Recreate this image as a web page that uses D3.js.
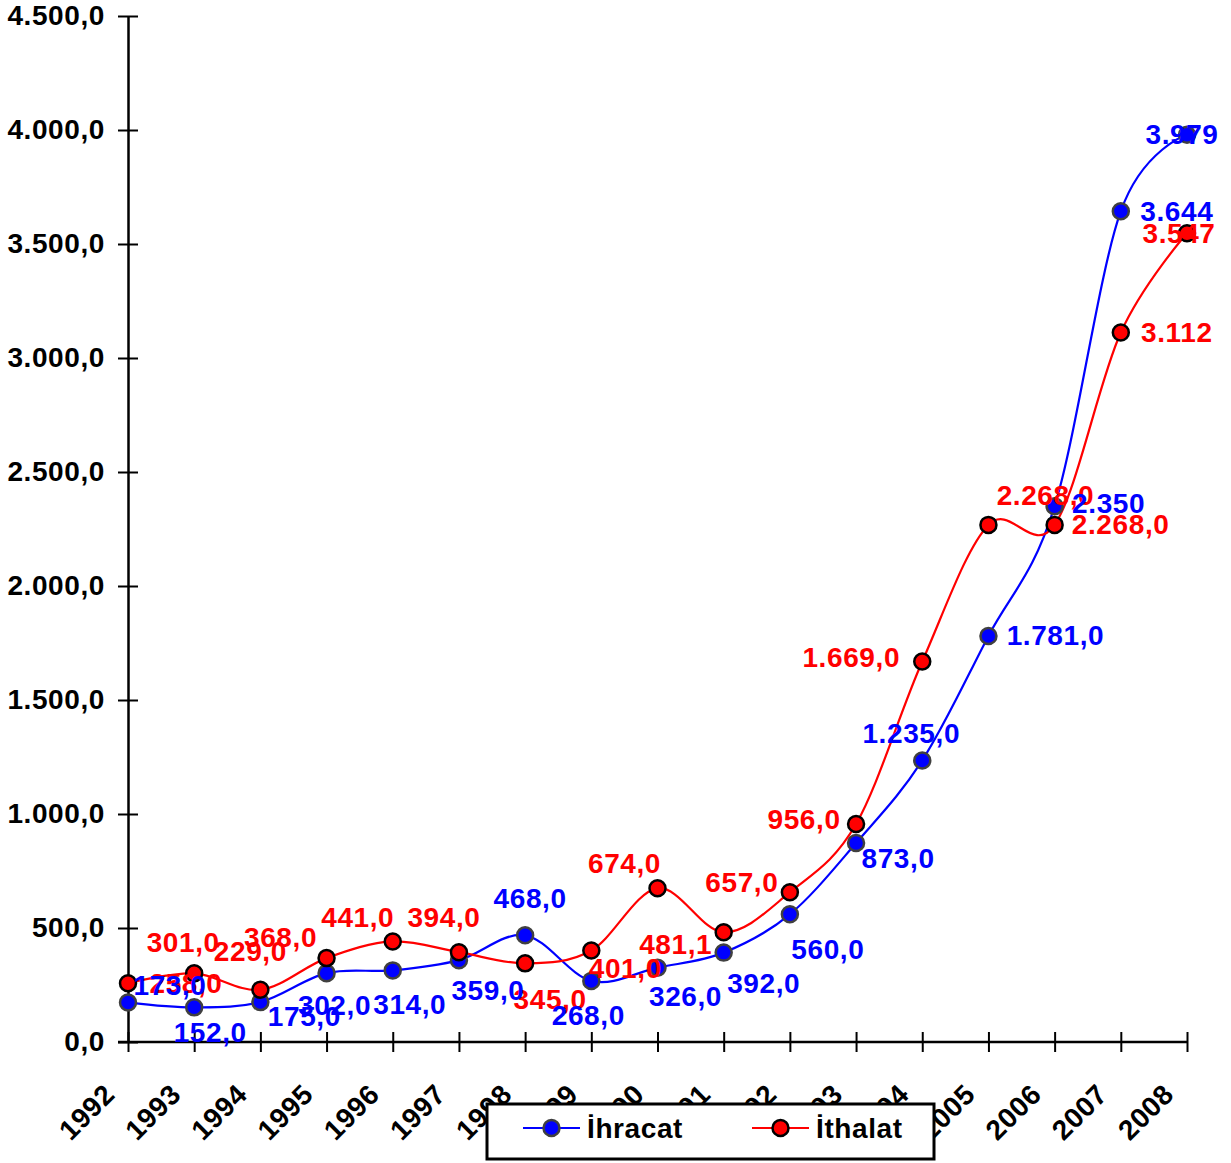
<!DOCTYPE html>
<html>
<head>
<meta charset="utf-8">
<script src="https://cdn.jsdelivr.net/npm/d3@7"></script>
<style>
    body { margin: 0; background: #fff; }
    text { font-family: "Liberation Sans", Arial, sans-serif; font-weight: bold; letter-spacing: 0.6px; }
</style>
</head>
<body>
<svg id="chart" width="1231" height="1163"></svg>
<script>
var years = ['1992', '1993', '1994', '1995', '1996', '1997', '1998', '1999', '2000',
    '2001', '2002', '2003', '2004', '2005', '2006', '2007', '2008'];

// İhracat (exports)
var ihracat = [173, 152, 175, 302, 314, 359, 468, 268, 326, 392, 560, 873, 1235,
    1781, 2350, 3644, 3979];
var ihracatLabels = ['173,0', '152,0', '175,0', '302,0', '314,0', '359,0', '468,0',
    '268,0', '326,0', '392,0', '560,0', '873,0', '1.235,0', '1.781,0', '2.350',
    '3.644', '3.979'];

// İthalat (imports)
var ithalat = [258, 301, 229, 368, 441, 394, 345, 401, 674, 481.1, 657, 956, 1669,
    2268, 2268, 3112, 3547];
var ithalatLabels = ['258,0', '301,0', '229,0', '368,0', '441,0', '394,0', '345,0',
    '401,0', '674,0', '481,1', '657,0', '956,0', '1.669,0', '2.268,0', '2.268,0',
    '3.112', '3.547'];

var yTicks = [0, 500, 1000, 1500, 2000, 2500, 3000, 3500, 4000, 4500];

// where each data label sits relative to its point (the original chart had them hand placed)
var ihracatNudge = [[42, -17], [16, 25], [44, 14], [8, 32], [17, 34], [29, 30], [5, -37],
    [-3, 35], [28, 29], [40, 31], [38, 35], [42, 16], [-11, -27], [67, 0], [54, -3],
    [56, 0], [-5, 0]];
var ithalatNudge = [[58, 0], [-11, -31], [-10, -38], [-46, -21], [-35, -24], [-15, -35],
    [25, 36], [34, 18], [-33, -25], [-48, 12], [-48, -10], [-52, -5], [-71, -4],
    [57, -29], [66, 0], [56, 0], [-8, 0]];

var svg = d3.select('#chart');
var fontSize = 28;

var x = d3.scalePoint()
    .domain(years)
    .range([128, 1187]);

var y = d3.scaleLinear()
    .domain([0, 4500])
    .range([1042, 16]);

var trFormat = d3.formatLocale({
    decimal: ',',
    thousands: '.',
    grouping: [3],
    currency: ['', '']
}).format(',.1f');

// y axis
var yAxis = d3.axisLeft(y)
    .tickValues(yTicks)
    .tickFormat(trFormat)
    .tickSizeInner(10)
    .tickSizeOuter(0)
    .tickPadding(13);

var gy = svg.append('g')
    .attr('transform', 'translate(' + x.range()[0] + ',0)')
    .call(yAxis);
gy.select('.domain').attr('stroke', '#000').attr('stroke-width', 2.5);
gy.selectAll('.tick line')
    .attr('x1', -10)
    .attr('x2', 10)
    .attr('stroke', '#000')
    .attr('stroke-width', 2);
gy.selectAll('.tick text')
    .attr('fill', '#000')
    .style('font-size', fontSize + 'px');

// x axis
var xAxis = d3.axisBottom(x)
    .tickSizeInner(10)
    .tickSizeOuter(0);

var gx = svg.append('g')
    .attr('transform', 'translate(0,' + y(0) + ')')
    .call(xAxis);
gx.select('.domain')
    .attr('d', 'M118,0H' + x.range()[1])
    .attr('stroke', '#000')
    .attr('stroke-width', 2.5);
gx.selectAll('.tick line')
    .attr('y1', -10)
    .attr('y2', 10)
    .attr('stroke', '#000')
    .attr('stroke-width', 2);
gx.selectAll('.tick text')
    .attr('fill', '#000')
    .style('font-size', fontSize + 'px')
    .attr('text-anchor', 'end')
    .attr('y', 0)
    .attr('dy', 0)
    .attr('transform', 'translate(-12,54) rotate(-45)');

// series
var series = [
    {name: 'İhracat', values: ihracat, labels: ihracatLabels, nudge: ihracatNudge,
        color: '#0000ff', ring: '#404040'},
    {name: 'İthalat', values: ithalat, labels: ithalatLabels, nudge: ithalatNudge,
        color: '#ff0000', ring: '#000000'}
];

var line = d3.line()
    .x(function(d, i) { return x(years[i]); })
    .y(function(d) { return y(d); })
    .curve(d3.curveCardinal.tension(0));

series.forEach(function(s) {
    svg.append('path')
        .attr('d', line(s.values))
        .attr('fill', 'none')
        .attr('stroke', s.color)
        .attr('stroke-width', 2.2);
});

series.forEach(function(s) {
    svg.append('g').selectAll('circle')
        .data(s.values)
        .enter()
        .append('circle')
        .attr('cx', function(d, i) { return x(years[i]); })
        .attr('cy', function(d) { return y(d); })
        .attr('r', 8)
        .attr('fill', s.color)
        .attr('stroke', s.ring)
        .attr('stroke-width', 2.5);
});

// data labels, red first so the blue ones end up on top like the original
[series[1], series[0]].forEach(function(s) {
    svg.append('g').selectAll('text')
        .data(s.values)
        .enter()
        .append('text')
        .attr('x', function(d, i) { return x(years[i]) + s.nudge[i][0]; })
        .attr('y', function(d, i) { return y(d) + s.nudge[i][1]; })
        .attr('text-anchor', 'middle')
        .attr('dominant-baseline', 'central')
        .attr('fill', s.color)
        .style('font-size', fontSize + 'px')
        .text(function(d, i) { return s.labels[i]; });
});

// legend box sits over the middle year labels
var legend = svg.append('g');
legend.append('rect')
    .attr('x', 487)
    .attr('y', 1104)
    .attr('width', 447)
    .attr('height', 55)
    .attr('fill', '#fff')
    .attr('stroke', '#000')
    .attr('stroke-width', 3);

var legendX = [523, 752];
series.forEach(function(s, i) {
    var lx = legendX[i];
    legend.append('line')
        .attr('x1', lx)
        .attr('x2', lx + 57)
        .attr('y1', 1128)
        .attr('y2', 1128)
        .attr('stroke', s.color)
        .attr('stroke-width', 2.2);
    legend.append('circle')
        .attr('cx', lx + 28.5)
        .attr('cy', 1128)
        .attr('r', 8)
        .attr('fill', s.color)
        .attr('stroke', s.ring)
        .attr('stroke-width', 2.5);
    legend.append('text')
        .attr('x', lx + 64)
        .attr('y', 1128)
        .attr('dominant-baseline', 'central')
        .attr('fill', '#000')
        .style('font-size', fontSize + 'px')
        .text(s.name);
});
</script>
</body>
</html>
